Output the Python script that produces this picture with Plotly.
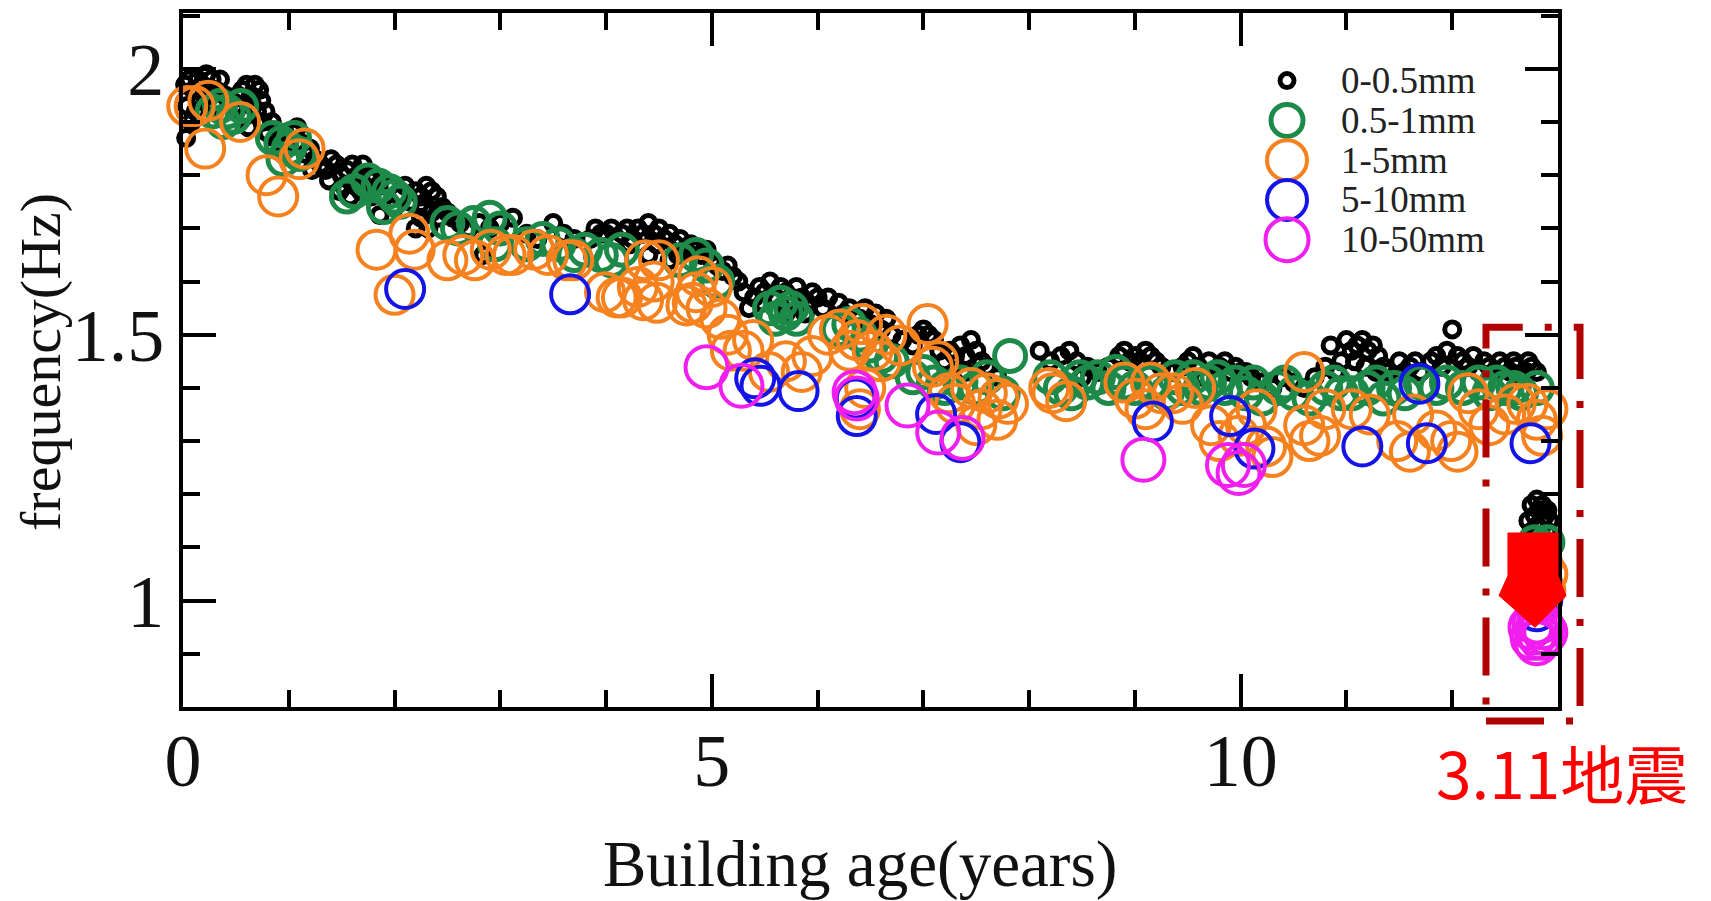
import plotly.graph_objects as go

# (building age [years], natural frequency [Hz]) per vibration-amplitude class
amp_0_05 = [
    (0.02, 1.97), (0.06, 1.98), (0.10, 1.96), (0.14, 1.98), (0.18, 1.97), (0.22, 1.99),
    (0.27, 1.98), (0.31, 1.96), (0.35, 1.98), (0.04, 1.93), (0.08, 1.90), (0.03, 1.87),
    (0.12, 1.92), (0.16, 1.94), (0.25, 1.95), (0.40, 1.95), (0.45, 1.94), (0.50, 1.92),
    (0.56, 1.96), (0.60, 1.97), (0.64, 1.95), (0.68, 1.97), (0.72, 1.96), (0.66, 1.93),
    (0.58, 1.91), (0.62, 1.89), (0.70, 1.92), (0.75, 1.90), (0.80, 1.88), (0.84, 1.90),
    (0.88, 1.87), (0.92, 1.86), (0.96, 1.88), (0.20, 1.95), (0.30, 1.93), (0.52, 1.95),
    (0.74, 1.94), (0.78, 1.92), (0.86, 1.85),
    (1.00, 1.86), (1.04, 1.88), (1.08, 1.89), (1.12, 1.86), (1.16, 1.84), (1.20, 1.85),
    (1.25, 1.83), (1.30, 1.82), (1.35, 1.81), (1.40, 1.83), (1.45, 1.82), (1.50, 1.80),
    (1.55, 1.81), (1.60, 1.82), (1.65, 1.80), (1.70, 1.82), (1.75, 1.80), (1.80, 1.79),
    (1.85, 1.78), (1.48, 1.77), (1.58, 1.76), (1.68, 1.77), (1.90, 1.76), (1.95, 1.78),
    (1.86, 1.725), (1.22, 1.81), (1.38, 1.79), (1.52, 1.78), (1.63, 1.78), (1.72, 1.78),
    (1.78, 1.76),
    (2.00, 1.74), (2.05, 1.76), (2.10, 1.78), (2.15, 1.75), (2.20, 1.77), (2.25, 1.76),
    (2.30, 1.78), (2.35, 1.77), (2.40, 1.76), (2.45, 1.74), (2.35, 1.73), (2.25, 1.72),
    (2.50, 1.73), (2.55, 1.72), (2.20, 1.70), (2.62, 1.71), (2.70, 1.70), (2.80, 1.71),
    (2.84, 1.65), (2.90, 1.70), (3.00, 1.71), (2.28, 1.74), (2.42, 1.72), (2.32, 1.70),
    (3.12, 1.72), (3.25, 1.69), (3.35, 1.68), (3.50, 1.71), (3.60, 1.69), (3.70, 1.68),
    (3.85, 1.68), (3.90, 1.70), (3.95, 1.69),
    (4.00, 1.69), (4.05, 1.70), (4.10, 1.68), (4.15, 1.69), (4.20, 1.70), (4.25, 1.68),
    (4.30, 1.70), (4.35, 1.69), (4.40, 1.71), (4.45, 1.69), (4.50, 1.70), (4.55, 1.68),
    (4.60, 1.69), (4.65, 1.67), (4.70, 1.68), (4.75, 1.66), (4.80, 1.67), (4.85, 1.66),
    (4.90, 1.65), (4.95, 1.66), (5.00, 1.64), (4.40, 1.65), (4.60, 1.64), (4.22, 1.67),
    (4.48, 1.67), (4.68, 1.65),
    (5.05, 1.63), (5.10, 1.62), (5.15, 1.63), (5.20, 1.61), (5.25, 1.60), (5.30, 1.58),
    (5.40, 1.57), (5.45, 1.59), (5.50, 1.58), (5.55, 1.60), (5.60, 1.57), (5.65, 1.59),
    (5.70, 1.58), (5.75, 1.57), (5.80, 1.59), (5.85, 1.57), (5.90, 1.56), (5.95, 1.58),
    (6.00, 1.57), (5.35, 1.55), (5.70, 1.54), (5.48, 1.56), (5.88, 1.54),
    (6.05, 1.55), (6.10, 1.57), (6.20, 1.56), (6.25, 1.54), (6.30, 1.55), (6.40, 1.53),
    (6.45, 1.55), (6.50, 1.52), (6.55, 1.54), (6.60, 1.51), (6.65, 1.53), (6.70, 1.50),
    (6.80, 1.49), (6.90, 1.48), (6.95, 1.50), (7.00, 1.51), (7.05, 1.50), (7.10, 1.49),
    (7.15, 1.47), (7.20, 1.45), (7.25, 1.47), (7.30, 1.46), (7.35, 1.48), (7.40, 1.46),
    (7.45, 1.49), (7.50, 1.47), (7.55, 1.45), (7.60, 1.44), (7.40, 1.43), (7.70, 1.42),
    (8.10, 1.47), (8.20, 1.45), (8.30, 1.46), (8.38, 1.47), (8.45, 1.45), (8.55, 1.44),
    (8.65, 1.43), (8.75, 1.44), (8.85, 1.46), (8.90, 1.47), (8.95, 1.45), (8.50, 1.42),
    (9.00, 1.46), (9.05, 1.45), (9.10, 1.47), (9.15, 1.46), (9.20, 1.45), (9.25, 1.44),
    (9.35, 1.43), (9.45, 1.44), (9.50, 1.45), (9.55, 1.46), (9.60, 1.44), (9.70, 1.45),
    (9.80, 1.44), (9.85, 1.45), (9.90, 1.43), (9.95, 1.44), (10.00, 1.43), (9.65, 1.42),
    (10.05, 1.43), (10.10, 1.42), (10.20, 1.41), (10.30, 1.40), (10.40, 1.42), (10.50, 1.41),
    (10.60, 1.40), (10.70, 1.42), (10.80, 1.44), (10.85, 1.48), (10.90, 1.43), (10.95, 1.45),
    (11.00, 1.49), (11.05, 1.47), (11.10, 1.48), (11.15, 1.49), (11.20, 1.47), (11.25, 1.48),
    (11.30, 1.46), (11.35, 1.44), (11.40, 1.43), (11.50, 1.45), (11.55, 1.43), (11.60, 1.44),
    (11.65, 1.45), (11.70, 1.43), (11.80, 1.45), (11.85, 1.46), (11.90, 1.44), (11.95, 1.47),
    (12.00, 1.51), (12.05, 1.46), (11.08, 1.45), (11.18, 1.44), (11.28, 1.43),
    (12.10, 1.45), (12.15, 1.44), (12.20, 1.46), (12.25, 1.43), (12.30, 1.45), (12.35, 1.44),
    (12.40, 1.43), (12.45, 1.45), (12.50, 1.44), (12.55, 1.43), (12.60, 1.44), (12.65, 1.42),
    (12.70, 1.43), (12.75, 1.44), (12.80, 1.43), (12.58, 1.45), (12.72, 1.45),
    # after the 2011-03-11 earthquake
    (12.75, 1.18), (12.80, 1.19), (12.85, 1.18), (12.90, 1.17), (12.78, 1.16), (12.85, 1.15),
    (12.80, 1.14), (12.90, 1.13), (12.75, 1.13), (12.85, 1.12), (12.92, 1.15), (12.72, 1.15),
    (12.82, 1.17), (12.88, 1.16), (12.78, 1.12),
]

amp_05_1 = [
    (0.28, 1.92), (0.35, 1.93), (0.42, 1.92), (0.48, 1.91), (0.55, 1.93), (0.38, 1.90),
    (0.85, 1.87), (0.93, 1.86), (1.00, 1.85), (1.05, 1.87), (1.10, 1.84), (0.95, 1.83),
    (1.55, 1.76), (1.62, 1.77), (1.75, 1.79), (1.85, 1.78), (1.95, 1.77), (2.00, 1.76),
    (2.05, 1.75), (1.90, 1.74),
    (2.50, 1.71), (2.60, 1.70), (2.75, 1.71), (2.90, 1.72), (3.00, 1.70), (2.95, 1.67),
    (3.25, 1.67), (3.40, 1.68), (3.55, 1.67), (3.70, 1.65), (3.80, 1.66), (3.95, 1.65),
    (4.05, 1.64), (4.15, 1.66),
    (4.70, 1.64), (4.85, 1.65), (4.95, 1.63), (5.05, 1.60),
    (5.55, 1.55), (5.60, 1.53), (5.65, 1.56), (5.70, 1.54), (5.75, 1.55), (5.80, 1.53),
    (6.20, 1.51), (6.30, 1.52), (6.40, 1.50), (6.50, 1.48), (6.60, 1.46), (6.70, 1.45),
    (6.90, 1.42), (7.00, 1.43), (7.10, 1.41), (7.20, 1.40), (7.35, 1.41), (7.50, 1.40),
    (7.60, 1.42), (7.82, 1.46), (7.75, 1.39),
    (8.20, 1.42), (8.30, 1.40), (8.40, 1.39), (8.55, 1.41), (8.65, 1.42), (8.75, 1.40),
    (8.90, 1.41), (9.00, 1.40), (8.48, 1.42), (8.82, 1.43),
    (9.15, 1.41), (9.30, 1.39), (9.45, 1.40), (9.55, 1.42), (9.70, 1.41), (9.85, 1.40),
    (9.95, 1.41), (10.05, 1.39), (9.38, 1.42), (9.62, 1.40), (9.78, 1.42),
    (10.20, 1.38), (10.35, 1.40), (10.50, 1.39), (10.65, 1.38), (10.80, 1.40), (10.95, 1.39),
    (11.05, 1.39), (11.20, 1.40), (11.35, 1.38), (11.45, 1.40), (11.55, 1.39), (11.70, 1.41),
    (11.85, 1.40), (11.95, 1.41), (10.12, 1.41), (10.42, 1.41), (10.88, 1.41), (11.28, 1.41),
    (12.10, 1.40), (12.25, 1.41), (12.35, 1.39), (12.50, 1.40), (12.65, 1.39), (12.80, 1.40),
    (12.42, 1.41), (12.58, 1.40),
    (12.78, 1.11), (12.85, 1.10), (12.90, 1.11), (12.82, 1.08),
]

amp_1_5 = [
    (0.04, 1.93), (0.11, 1.93), (0.24, 1.94), (0.21, 1.85), (0.54, 1.90),
    (0.79, 1.80), (0.90, 1.76), (1.10, 1.83), (1.15, 1.85),
    (1.83, 1.66), (2.14, 1.69), (2.19, 1.66), (2.00, 1.575),
    (2.50, 1.64), (2.65, 1.65), (2.76, 1.64), (2.91, 1.66), (3.05, 1.65), (3.12, 1.65),
    (3.32, 1.66), (3.45, 1.65), (3.63, 1.64), (3.69, 1.64),
    (3.99, 1.58), (4.10, 1.57), (4.15, 1.57), (4.30, 1.59), (4.35, 1.565), (4.37, 1.64),
    (4.45, 1.60), (4.50, 1.64), (4.48, 1.56), (4.76, 1.555), (4.82, 1.56), (4.87, 1.61),
    (4.85, 1.58), (4.95, 1.55), (5.08, 1.53), (5.00, 1.59), (5.15, 1.50), (5.18, 1.47),
    (5.30, 1.47), (5.39, 1.49), (5.54, 1.43), (5.70, 1.45), (5.95, 1.46), (5.85, 1.43),
    (6.10, 1.50), (6.21, 1.51), (6.30, 1.47), (6.37, 1.49), (6.42, 1.52), (6.52, 1.47),
    (6.60, 1.45), (6.45, 1.40), (6.40, 1.36), (6.78, 1.48), (6.65, 1.50), (7.04, 1.52),
    (7.09, 1.44), (7.14, 1.45), (7.24, 1.39), (7.30, 1.37), (7.45, 1.40), (7.55, 1.36),
    (7.60, 1.39), (7.71, 1.38), (7.70, 1.34), (7.80, 1.37), (7.50, 1.33),
    (8.19, 1.40), (8.22, 1.39), (8.35, 1.375), (8.90, 1.41), (9.00, 1.38), (9.10, 1.36),
    (9.15, 1.41), (9.25, 1.39), (9.36, 1.39), (9.45, 1.37), (9.57, 1.40), (9.72, 1.33),
    (9.80, 1.30), (9.98, 1.31), (10.05, 1.33), (10.24, 1.29), (10.30, 1.27), (10.15, 1.36),
    (10.60, 1.43), (10.60, 1.33), (10.65, 1.30), (10.75, 1.31), (10.80, 1.36), (11.05, 1.36),
    (11.22, 1.35), (11.48, 1.30), (11.60, 1.28), (11.63, 1.35), (11.85, 1.32), (11.99, 1.30),
    (12.05, 1.28), (12.15, 1.39), (12.25, 1.36), (12.35, 1.33), (12.50, 1.35), (12.60, 1.37),
    (12.71, 1.37), (12.80, 1.34), (12.90, 1.36), (12.85, 1.31),
    (12.85, 1.07), (12.90, 1.05), (12.88, 1.02), (12.82, 1.00),
]

amp_5_10 = [
    (2.10, 1.586), (3.66, 1.576), (5.41, 1.418), (5.46, 1.404), (5.82, 1.394), (6.37, 1.347),
    (6.36, 1.38), (7.12, 1.351), (7.35, 1.298), (9.17, 1.337), (9.90, 1.347), (10.13, 1.286),
    (11.15, 1.29), (11.69, 1.408), (11.76, 1.296), (12.74, 1.296),
    (12.85, 1.00), (12.80, 0.98),
]

amp_10_50 = [
    (4.95, 1.439), (5.28, 1.404), (6.35, 1.392), (6.37, 1.38), (6.85, 1.367), (7.14, 1.316),
    (7.37, 1.306), (9.08, 1.265), (9.88, 1.255), (9.98, 1.24), (10.03, 1.255),
    (12.78, 0.96), (12.85, 0.95), (12.80, 0.94), (12.76, 0.93), (12.84, 0.93), (12.80, 0.92),
    (12.74, 0.95), (12.88, 0.94), (12.82, 0.96),
]

series_names = ["0-0.5mm", "0.5-1mm", "1-5mm", "5-10mm", "10-50mm"]
series_data = [amp_0_05, amp_05_1, amp_1_5, amp_5_10, amp_10_50]

colors = ["#000000", "#1E8A4A", "#F5821F", "#1414E8", "#F01EEE"]
marker_sizes = [15, 31, 38, 38, 42]
marker_lines = [5, 5, 4, 4, 4]

# plot-area geometry in pixels (used for paper-space decorations)
W, H = 1711, 901
L, R, T, B = 183, 153, 9, 194
PW, PH = W - L - R, H - T - B


def px(xp):
    return (xp - L) / PW


def py(yp):
    return (H - B - yp) / PH


fig = go.Figure()
for name, pts, c, s, lw in zip(series_names, series_data, colors, marker_sizes, marker_lines):
    fig.add_trace(go.Scatter(
        x=[p[0] for p in pts], y=[p[1] for p in pts], name=name,
        mode="markers", cliponaxis=False, showlegend=False,
        marker=dict(symbol="circle-open", size=s, color=c, line=dict(width=lw, color=c)),
    ))

axis_font = dict(family="Liberation Serif, Times New Roman, serif", size=74, color="#111")
common = dict(
    showline=True, linecolor="black", linewidth=4, mirror="ticks",
    ticks="inside", ticklen=33, tickwidth=3.5, tickcolor="black",
    showgrid=False, zeroline=False, tickfont=axis_font,
)
fig.update_xaxes(range=[0, 13], tick0=0, dtick=5, ticklabelstandoff=-14,
                 minor=dict(dtick=1, ticks="inside", ticklen=17, tickwidth=3.5, tickcolor="black"),
                 **common)
fig.update_yaxes(range=[0.8, 2.105], tick0=0, dtick=0.5, ticklabelstandoff=0,
                 minor=dict(dtick=0.1, ticks="inside", ticklen=17, tickwidth=3.5, tickcolor="black"),
                 **common)

shapes = []
annotations = []

# legend: open circles with labels, top right inside the frame
leg_outer = [19, 37, 44, 44, 47]
for i, (name, c, lw, d) in enumerate(zip(series_names, colors, marker_lines, leg_outer)):
    yc = py(77 + 40 * i)
    r = (d - lw) / 2
    shapes.append(dict(type="circle", xref="paper", yref="paper",
                       xsizemode="pixel", ysizemode="pixel",
                       xanchor=px(1287), yanchor=yc, x0=-r, x1=r, y0=-r, y1=r,
                       line=dict(color=c, width=lw)))
    annotations.append(dict(text=name, xref="paper", yref="paper", x=px(1340), y=yc,
                            xanchor="left", yanchor="middle", showarrow=False, borderpad=0,
                            font=dict(family="Liberation Serif, serif", size=37, color="#222")))

# dash-dot box marking the post-earthquake records
shapes.append(dict(type="rect", xref="paper", yref="paper",
                   x0=px(1486), x1=px(1580), y0=py(721), y1=py(325),
                   line=dict(color="#B00000", width=7, dash="58px,22px,7px,22px")))

# red block arrow pointing down to the post-earthquake drop
arrow = [(1508, 532), (1558, 532), (1558, 575), (1566, 595), (1535, 627), (1499, 595), (1508, 575)]
path = "M" + " L".join(f"{px(a):.4f},{py(b):.4f}" for a, b in arrow) + " Z"
shapes.append(dict(type="path", xref="paper", yref="paper", path=path,
                   fillcolor="#FF0000", line=dict(color="#FF0000", width=1)))

annotations.append(dict(text="3.11地震", xref="paper", yref="paper", x=px(1562), y=py(771),
                        xanchor="center", yanchor="middle", showarrow=False,
                        font=dict(family="Noto Sans CJK SC, sans-serif", size=64, color="#FF0000")))

annotations.append(dict(text="Building age(years)", xref="paper", yref="paper",
                        x=px(860), y=py(865), xanchor="center", yanchor="middle", showarrow=False,
                        font=dict(family="Liberation Serif, serif", size=65, color="#111")))
annotations.append(dict(text="frequency(Hz)", xref="paper", yref="paper", textangle=-90,
                        x=px(41), y=py(360), xanchor="center", yanchor="middle", showarrow=False,
                        font=dict(family="Liberation Serif, serif", size=58, color="#111")))

fig.update_layout(
    width=W, height=H, margin=dict(l=L, r=R, t=T, b=B),
    paper_bgcolor="white", plot_bgcolor="white",
    shapes=shapes, annotations=annotations, showlegend=False,
)

fig.write_html("out.html")
